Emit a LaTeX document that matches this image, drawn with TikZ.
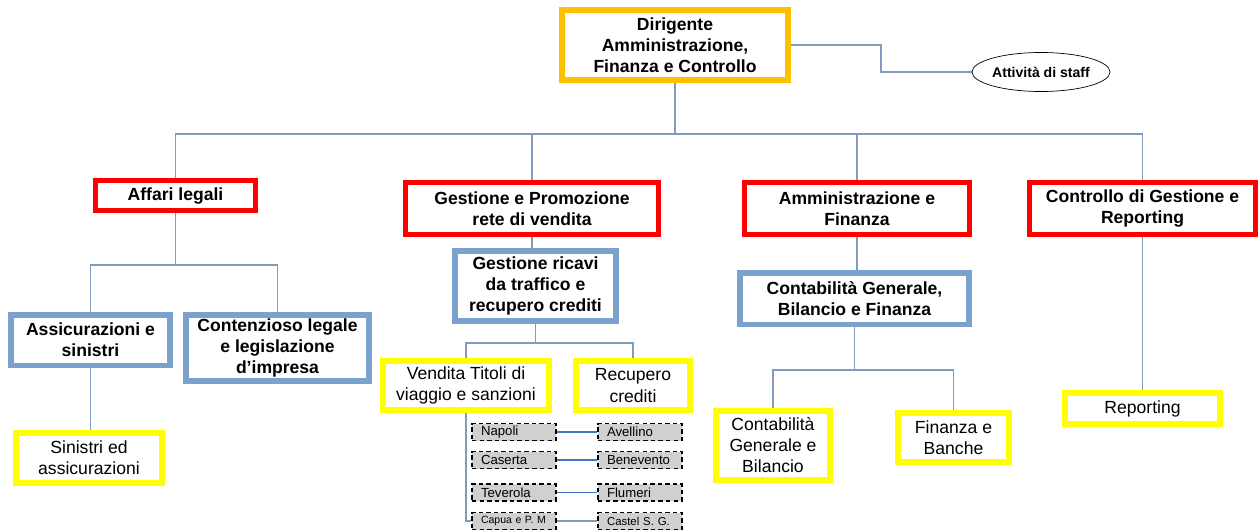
\documentclass[tikz,border=0pt]{standalone}
\usepackage{fontspec}
\setmainfont{Liberation Sans}
\usetikzlibrary{shapes.geometric,backgrounds}

\definecolor{dirorange}{HTML}{FFC000}
\definecolor{boxred}{HTML}{FF0000}
\definecolor{boxblue}{HTML}{7BA1CF}
\definecolor{boxyellow}{HTML}{FFFF00}
\definecolor{linkblue}{HTML}{7F9CBF}
\definecolor{pairblue}{HTML}{4472C4}
\definecolor{cityfill}{HTML}{D0D0D0}

\begin{document}
\begin{tikzpicture}[x=0.02cm, y=-0.02cm,
    box/.style={draw, fill=white, align=center, inner sep=1pt},
    top node/.style={box, draw=dirorange, line width=0.12cm, font=\bfseries\fontsize{10}{12}\selectfont},
    red node/.style={box, draw=boxred, line width=0.1cm, font=\bfseries\fontsize{10}{12}\selectfont},
    blue node/.style={box, draw=boxblue, line width=0.11cm, font=\bfseries\fontsize{10}{12}\selectfont},
    yellow node/.style={box, draw=boxyellow, line width=0.12cm, font=\fontsize{10}{12}\selectfont},
    city node/.style={draw, dash pattern=on 2.5pt off 1.8pt, line width=1pt, fill=cityfill,
                      minimum width=1.68cm, minimum height=0.34cm, text width=1.32cm,
                      inner xsep=0.18cm, inner ysep=0pt, align=left, font=\fontsize{7.5}{8}\selectfont},
    staff node/.style={ellipse, draw, line width=0.4pt, minimum width=2.76cm, minimum height=0.78cm,
                       inner sep=0pt, font=\bfseries\fontsize{8}{9}\selectfont},
    link/.style={draw=linkblue, line width=0.6pt},
    pair/.style={draw=pairblue, line width=0.8pt}]

  \useasboundingbox (0,0) rectangle (1258,531);

  % top
  \node[top node, minimum width=4.52cm, minimum height=1.4cm] (dir) at (675,45)
    {Dirigente\\Amministrazione,\\Finanza e Controllo};
  \node[staff node] (staff) at (1041,72) {Attività di staff};

  % second level
  \node[red node, minimum width=3.2cm, minimum height=0.6cm] (al) at (175.5,195.5) {Affari legali};
  \node[red node, minimum width=5.06cm, minimum height=1.04cm] (gp) at (532,208.5)
    {Gestione e Promozione\\rete di vendita};
  \node[red node, minimum width=4.5cm, minimum height=1.04cm] (af) at (857,208.5)
    {Amministrazione e\\Finanza};
  \node[red node, minimum width=4.52cm, minimum height=1.04cm] (cg) at (1142.5,208.5)
    {Controllo di Gestione e\\Reporting};

  % third level
  \node[blue node, minimum width=3.19cm, minimum height=1.01cm] (as) at (90.5,340)
    {Assicurazioni e\\sinistri};
  \node[blue node, minimum width=3.67cm, minimum height=1.33cm] (cl) at (277.5,348)
    {Contenzioso legale\\e legislazione\\d’impresa};
  \node[blue node, minimum width=3.23cm, minimum height=1.41cm] (gr) at (535.5,286)
    {Gestione ricavi\\da traffico e\\recupero crediti};
  \node[blue node, minimum width=4.59cm, minimum height=1.03cm] (cgb) at (854.5,298.5)
    {Contabilità Generale,\\Bilancio e Finanza};

  % fourth level
  \node[yellow node, minimum width=2.92cm, minimum height=1cm] (si) at (89,458)
    {Sinistri ed\\assicurazioni};
  \node[yellow node, minimum width=3.32cm, minimum height=0.98cm] (vt) at (466,385.5)
    {Vendita Titoli di\\viaggio e sanzioni};
  \node[yellow node, minimum width=2.28cm, minimum height=0.98cm] (rc) at (633,385.5)
    {Recupero\\crediti};
  \node[yellow node, minimum width=2.28cm, minimum height=1.38cm] (cgeb) at (773,445.5)
    {Contabilità\\Generale e\\Bilancio};
  \node[yellow node, minimum width=2.22cm, minimum height=0.98cm] (fb) at (953.5,437.5)
    {Finanza e\\Banche};
  \node[yellow node, minimum width=3.1cm, minimum height=0.62cm] (rep) at (1142.5,408.5)
    {Reporting};

  % sales offices
  \node[city node] (c1a) at (514,432) {Napoli};
  \node[city node] (c1b) at (640,432) {Avellino};
  \node[city node] (c2a) at (514,460) {Caserta};
  \node[city node] (c2b) at (640,460) {Benevento};
  \node[city node] (c3a) at (514,492.5) {Teverola};
  \node[city node] (c3b) at (640,492.5) {Flumeri};
  \node[city node, font=\fontsize{6}{7}\selectfont] (c4a) at (514,521) {Capua e P. M};
  \node[city node, font=\fontsize{6.5}{7}\selectfont] (c4b) at (640,521) {Castel S. G.};

  \begin{scope}[on background layer]
    \draw[link] (dir.east) -- ++(90,0) |- (staff.west);
    \draw[link] (dir.south) -- ++(0,51) coordinate (bus);
    \draw[link] (al.north) |- (bus) -| (cg.north);
    \draw[link] (gp.north) -- (gp.north |- bus);
    \draw[link] (af.north) -- (af.north |- bus);

    \draw[link] (al.south) -- ++(0,52) coordinate (albus);
    \draw[link] (as.north) |- (albus) -| (cl.north);
    \draw[link] (as.south) -- (as.south |- si.north);

    \draw[link] (gp.south) -- (gp.south |- gr.north);
    \draw[link] (gr.south) -- ++(0,19) coordinate (grbus);
    \draw[link] (vt.north) |- (grbus) -| (rc.north);
    \draw[link] (vt.south) |- (c4a.west);
    \draw[pair] (c1a) -- (c1b);
    \draw[pair] (c2a) -- (c2b);
    \draw[pair] (c3a) -- (c3b);
    \draw[link] (c4a) -- (c4b);

    \draw[link] (af.south) -- (af.south |- cgb.north);
    \draw[link] (cgb.south) -- ++(0,43) coordinate (cgbbus);
    \draw[link] (cgeb.north) |- (cgbbus) -| (fb.north);

    \draw[link] (cg.south) -- (cg.south |- rep.north);
  \end{scope}
\end{tikzpicture}
\end{document}
